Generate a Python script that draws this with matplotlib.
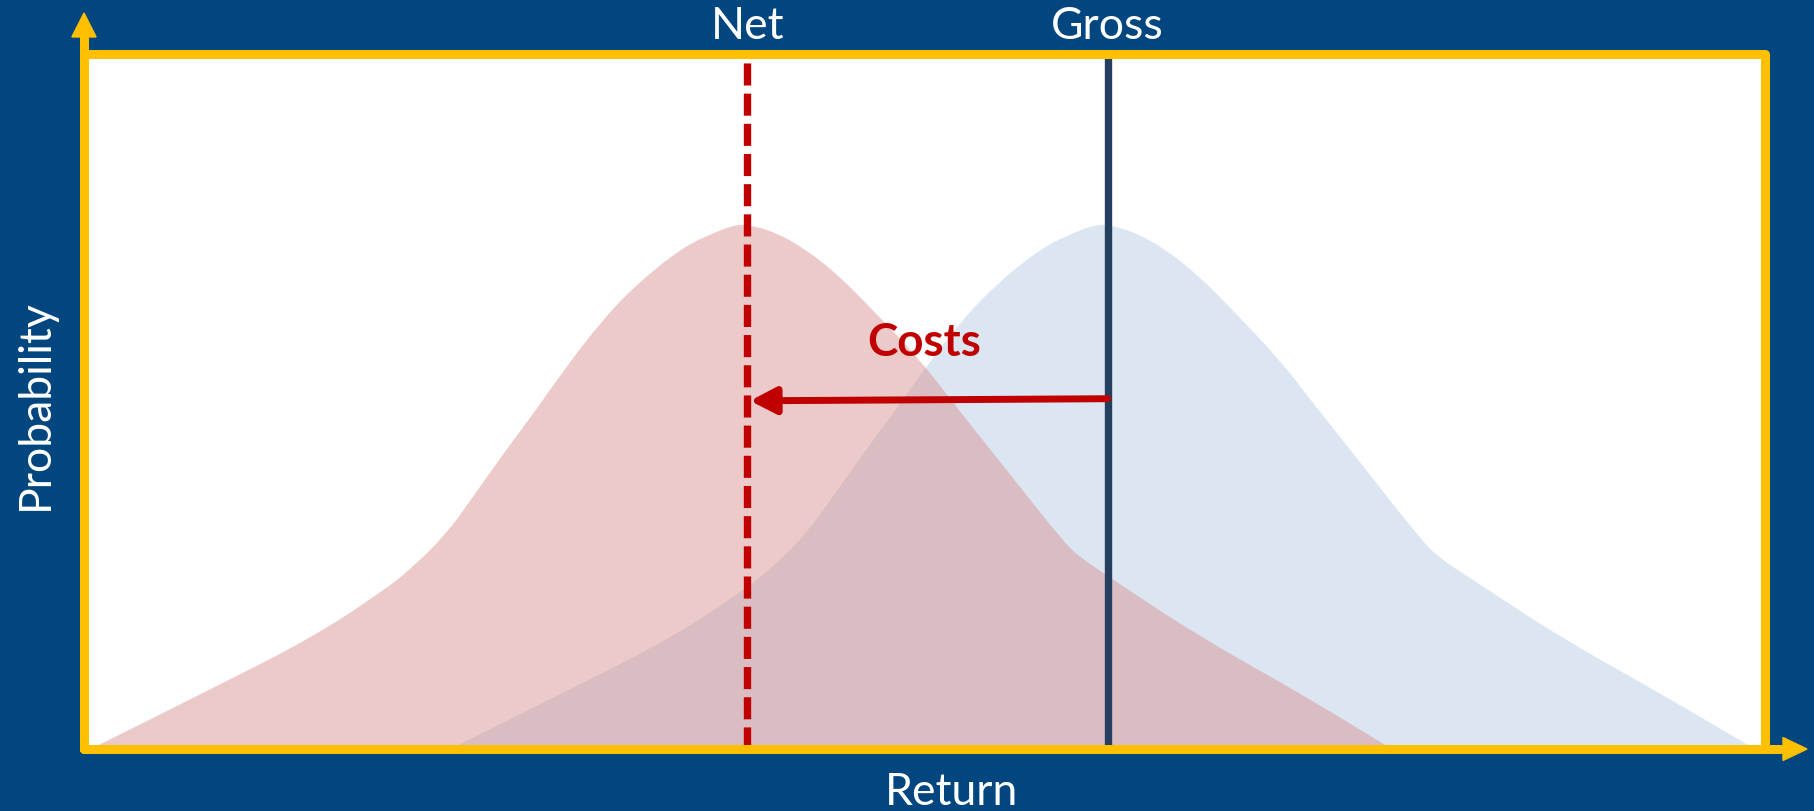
# gross vs net return distributions, costs shift the curve left

import matplotlib.pyplot as plt
from matplotlib.patches import Polygon, PathPatch
from matplotlib.path import Path

# curve outlines (return 0-100, probability 0-1)
net_x = [0.4, 8.3, 13.6, 17.6, 19.6, 21.6, 23.0, 24.8, 26.8, 28.7, 30.7, 32.7, 35.6, 37.6, 38.6, 39.4,
         41.1, 43.0, 45.0, 46.9, 49.6, 51.9, 54.9, 58.5, 59.5, 61.0, 66.4, 72.3, 77.8]
net_y = [0.0, 0.095, 0.161, 0.224, 0.262, 0.311, 0.358, 0.420, 0.485, 0.550, 0.613, 0.665, 0.722, 0.744, 0.753, 0.755,
         0.744, 0.718, 0.679, 0.632, 0.564, 0.492, 0.401, 0.291, 0.272, 0.247, 0.161, 0.081, 0.0]

gross_x = [21.8, 29.7, 35.0, 39.0, 41.0, 43.0, 44.4, 46.2, 48.2, 50.1, 52.1, 54.1, 57.0, 59.0, 60.0, 60.8,
           62.5, 64.4, 66.4, 68.3, 71.0, 73.3, 76.0, 79.4, 80.6, 82.4, 87.8, 93.7, 99.4]
gross_y = [0.0, 0.095, 0.161, 0.224, 0.262, 0.311, 0.358, 0.420, 0.485, 0.550, 0.613, 0.665, 0.722, 0.744, 0.753, 0.755,
           0.744, 0.718, 0.679, 0.632, 0.564, 0.492, 0.410, 0.305, 0.275, 0.247, 0.161, 0.081, 0.0]

net_mean = 39.47
gross_mean = 60.9
arrow_y = [0.504, 0.501]   # gross end, net end

bg = '#02467F'
yellow = '#FFC000'
red = '#C00000'
navy = '#243F60'


def smooth_shape(xs, ys):
    # quadratic bezier through midpoints, the read points act as control points
    verts = [(xs[0], ys[0])]
    codes = [Path.MOVETO]
    for i in range(1, len(xs) - 1):
        mx = (xs[i] + xs[i+1]) / 2
        my = (ys[i] + ys[i+1]) / 2
        verts += [(xs[i], ys[i]), (mx, my)]
        codes += [Path.CURVE3, Path.CURVE3]
    verts.append((xs[-1], ys[-1]))
    codes.append(Path.LINETO)
    verts.append((xs[0], ys[0]))
    codes.append(Path.CLOSEPOLY)
    return Path(verts, codes)


plt.rcParams['font.family'] = ['Lato', 'DejaVu Sans']

fig = plt.figure(figsize=(18.14, 8.11), dpi=100, facecolor=bg)
ax = fig.add_axes([84/1814, 62/811, 1681/1814, 695/811])
ax.set_facecolor('white')
ax.set_xlim(0, 100)
ax.set_ylim(0, 1)
ax.set_xticks([])
ax.set_yticks([])
for s in ax.spines.values():
    s.set_visible(False)

ax.add_patch(PathPatch(smooth_shape(gross_x, gross_y), facecolor='#DCE6F2', lw=0, zorder=1))
ax.add_patch(PathPatch(smooth_shape(net_x, net_y), facecolor='#D99694', alpha=0.5, lw=0, zorder=2))

ax.axvline(net_mean, color=red, lw=5.3, linestyle=(0, (3.0, 1.1)), zorder=3)
ax.axvline(gross_mean, color=navy, lw=5.3, zorder=3)

ax.annotate('', xy=(net_mean + 0.15, arrow_y[1]), xytext=(gross_mean, arrow_y[0]),
            arrowprops=dict(arrowstyle='-|>,head_length=15.5,head_width=8', mutation_scale=1,
                            color=red, lw=5, shrinkA=0, shrinkB=0), zorder=4)
ax.text(50.0, 0.584, 'Costs', color=red, fontsize=33, fontweight='bold', ha='center', va='center', zorder=4)

# labels
tr = ax.get_xaxis_transform()
ax.text(net_mean, 1.0216, 'Net', color='white', fontsize=32, ha='center', va='baseline', transform=tr)
ax.text(gross_mean, 1.0216, 'Gross', color='white', fontsize=32, ha='center', va='baseline', transform=tr)
ax.text(0.516, -0.081, 'Return', color='white', fontsize=32, ha='center', va='baseline', transform=ax.transAxes)
ax.text(-0.029, 0.495, 'Probability', color='white', fontsize=32, ha='center', va='center',
        rotation=90, transform=ax.transAxes)

# yellow frame with arrowheads on the axes
lw = 6.5
ax.plot([0, 0, 1, 1, 0], [0, 1, 1, 0, 0], color=yellow, lw=lw, transform=ax.transAxes,
        clip_on=False, solid_joinstyle='round', solid_capstyle='round', zorder=10)
ax.plot([0, 0], [1, 1.03], color=yellow, lw=lw, transform=ax.transAxes, clip_on=False,
        solid_capstyle='butt', zorder=10)
ax.plot([1, 1.012], [0, 0], color=yellow, lw=lw, transform=ax.transAxes, clip_on=False,
        solid_capstyle='butt', zorder=10)
ax.add_patch(Polygon([(-0.0072, 1.0245), (0.0072, 1.0245), (0, 1.059)], closed=True, color=yellow,
                     transform=ax.transAxes, clip_on=False, zorder=10))
ax.add_patch(Polygon([(1.0107, -0.0165), (1.0107, 0.0165), (1.025, 0)], closed=True, color=yellow,
                     transform=ax.transAxes, clip_on=False, zorder=10))

plt.savefig('out.png', dpi=100, facecolor=bg)
